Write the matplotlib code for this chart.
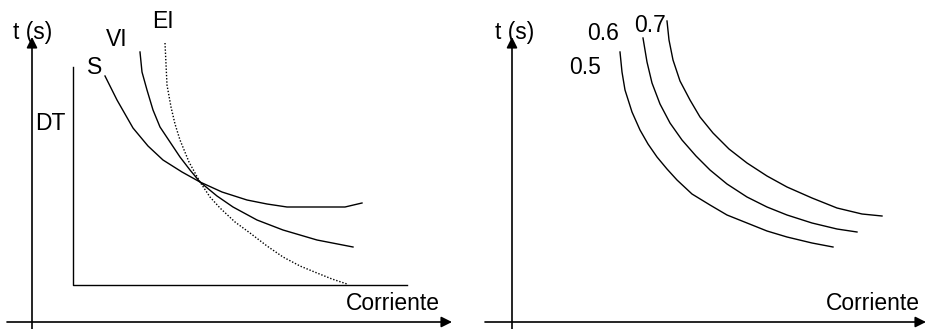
import matplotlib
matplotlib.use("Agg")
import matplotlib.pyplot as plt

plt.rcParams['font.family'] = ['Liberation Sans', 'DejaVu Sans']

# ---- Left panel: curve types (current vs time, arbitrary units) ----
s_current = [73, 85, 101, 116, 131, 150, 168, 190, 215, 235, 255, 285, 313, 330]
s_time = [246, 222, 194, 176, 162, 150, 140, 130, 122, 118, 115, 115, 115, 119]

vi_current = [108, 110, 115, 121, 128, 138, 148, 158, 168, 185, 201, 225, 251, 285, 321]
vi_time = [270, 250, 232, 212, 195, 180, 165, 152, 140, 126, 115, 102, 92, 82, 75]

ei_current = [133, 134, 135, 139, 143, 148, 157, 168, 178, 188, 203, 218, 235, 251, 268, 285, 300, 315]
ei_time = [279, 258, 237, 215, 198, 182, 160, 140, 125, 114, 100, 89, 76, 65, 56, 49, 43, 38]

dt_current = [41, 41, 375]
dt_time = [255, 37, 37]

left_labels = ["S", "VI", "EI", "DT"]

# ---- Right panel: time dial settings ----
dial_labels = ["0.5", "0.6", "0.7"]
c05_current = [108, 110, 113, 120, 128, 136, 145, 155, 165, 180, 198, 215, 235, 255, 275, 300, 321]
c05_time = [270, 250, 232, 210, 192, 178, 165, 153, 142, 128, 117, 107, 99, 91, 85, 79, 75]
c06_current = [131, 135, 140, 148, 158, 170, 184, 198, 215, 235, 255, 275, 300, 325, 345]
c06_time = [284, 260, 239, 218, 199, 182, 166, 152, 138, 125, 115, 107, 99, 93, 90]
c07_current = [155, 157, 161, 168, 178, 188, 201, 217, 235, 255, 275, 300, 325, 350, 370]
c07_time = [301, 282, 262, 241, 222, 205, 189, 173, 159, 146, 135, 124, 114, 108, 106]

axis_x_label = "Corriente"
axis_y_label = "t (s)"

fig = plt.figure(figsize=(9.26, 3.29), dpi=100)
ax1 = fig.add_axes([0, 0, 0.5, 1])
ax2 = fig.add_axes([0.5, 0, 0.5, 1])

FS = 16.5
lw = 1.0

def draw_axes(ax, x0, x1):
    ax.annotate('', xy=(x1, 0), xytext=(x0, 0),
                arrowprops=dict(arrowstyle='-|>', color='black', lw=1.2,
                                mutation_scale=16, shrinkA=0, shrinkB=0))
    ax.annotate('', xy=(0, 285), xytext=(0, -8),
                arrowprops=dict(arrowstyle='-|>', color='black', lw=1.2,
                                mutation_scale=16, shrinkA=0, shrinkB=0))

# Left
ax1.set_xlim(-32, 431)
ax1.set_ylim(-7, 322)
ax1.axis('off')
draw_axes(ax1, -25, 420)
ax1.plot(dt_current, dt_time, color='black', lw=lw)
ax1.plot(s_current, s_time, color='black', lw=lw)
ax1.plot(vi_current, vi_time, color='black', lw=lw)
ax1.plot(ei_current, ei_time, color='black', lw=lw, linestyle=(0, (1, 1.3)))
ax1.text(-19, 290, axis_y_label, fontsize=FS, ha='left', va='center')
ax1.text(63, 254, left_labels[0], fontsize=FS, ha='center', va='center')
ax1.text(85, 283, left_labels[1], fontsize=FS, ha='center', va='center')
ax1.text(131, 301, left_labels[2], fontsize=FS, ha='center', va='center')
ax1.text(18, 199, left_labels[3], fontsize=FS, ha='center', va='center')
ax1.text(408, 19, axis_x_label, fontsize=FS, ha='right', va='center')

# Right
ax2.set_xlim(-49, 414)
ax2.set_ylim(-7, 322)
ax2.axis('off')
draw_axes(ax2, -27, 414)
ax2.plot(c05_current, c05_time, color='black', lw=lw)
ax2.plot(c06_current, c06_time, color='black', lw=lw)
ax2.plot(c07_current, c07_time, color='black', lw=lw)
ax2.text(-17, 290, axis_y_label, fontsize=FS, ha='left', va='center')
ax2.text(73, 255, dial_labels[0], fontsize=FS, ha='center', va='center')
ax2.text(91, 289, dial_labels[1], fontsize=FS, ha='center', va='center')
ax2.text(138, 297, dial_labels[2], fontsize=FS, ha='center', va='center')
ax2.text(408, 19, axis_x_label, fontsize=FS, ha='right', va='center')

fig.savefig("out.png", dpi=100)
